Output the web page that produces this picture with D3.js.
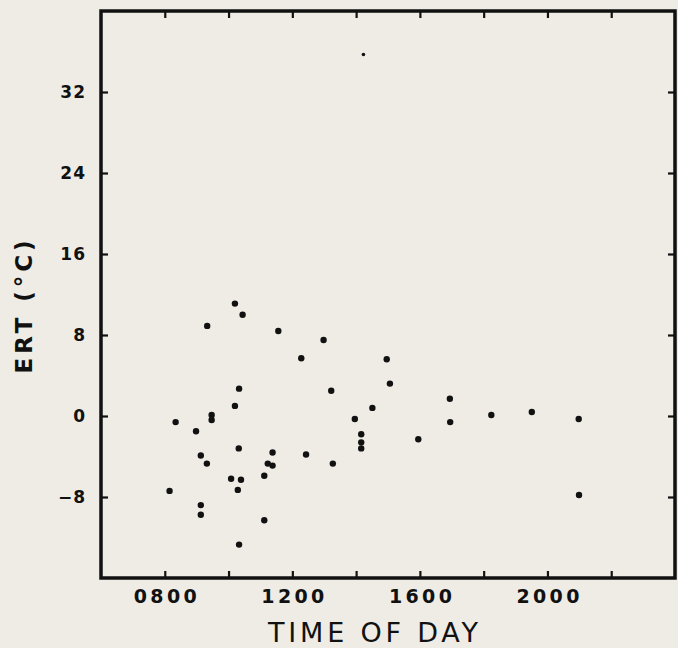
<!DOCTYPE html>
<html>
<head>
<meta charset="utf-8">
<title>ERT vs time of day</title>
<script src="https://cdn.jsdelivr.net/npm/d3@7/dist/d3.min.js"></script>
<style>
  html, body { margin: 0; padding: 0; background: #eeece5; }
  svg { display: block; }
</style>
</head>
<body>
<svg id="chart"></svg>
<script>
// time of day (decimal hours) and ERT (deg C)
var times = [
  14.23, 10.20, 10.44, 9.33, 11.56, 12.98, 12.28, 14.96, 15.06, 10.33,
  13.22, 16.94, 10.20, 14.51, 9.47, 9.47, 8.34, 19.51, 18.24, 20.98,
  13.96, 16.95, 8.98, 14.16, 15.95, 14.16, 14.16, 10.32, 9.13, 11.38,
  12.43, 9.32, 11.23, 11.38, 13.27, 11.12, 10.08, 10.39, 10.29, 8.15,
  20.99, 9.13, 9.13, 11.12, 10.33
];
var ertValues = [
  35.7, 11.1, 10.0, 8.9, 8.4, 7.5, 5.7, 5.6, 3.2, 2.7,
  2.5, 1.7, 1.0, 0.8, 0.1, -0.4, -0.6, 0.4, 0.1, -0.3,
  -0.3, -0.6, -1.5, -1.8, -2.3, -2.6, -3.2, -3.2, -3.9, -3.6,
  -3.8, -4.7, -4.7, -4.9, -4.7, -5.9, -6.2, -6.3, -7.3, -7.4,
  -7.8, -8.8, -9.75, -10.3, -12.7
];
var xTicks = [8, 10, 12, 14, 16, 18, 20, 22];
var xLabelled = [8, 12, 16, 20];
var yTicks = [-8, 0, 8, 16, 24, 32];

var width = 678, height = 648;
var plotLeft = 101, plotRight = 675, plotTop = 11, plotBottom = 578;

var svg = d3.select("#chart").attr("width", width).attr("height", height);

var x = d3.scaleLinear().domain([6, 24]).range([plotLeft, plotRight]);
var y = d3.scaleLinear().domain([-16, 40]).range([plotBottom, plotTop]);

function hhmm(h) {
  return d3.format("02d")(h) + "00";
}

// bottom axis with labels every 4 hours
var xAxis = svg.append("g")
  .attr("transform", "translate(0," + plotBottom + ")")
  .call(d3.axisBottom(x)
    .tickValues(xTicks)
    .tickSize(-7)
    .tickSizeOuter(0)
    .tickPadding(12)
    .tickFormat(function (d) { return xLabelled.indexOf(d) >= 0 ? hhmm(d) : ""; }));

// top axis, ticks only
svg.append("g")
  .attr("transform", "translate(0," + plotTop + ")")
  .call(d3.axisTop(x).tickValues(xTicks).tickSize(-7).tickSizeOuter(0).tickFormat(""));

var yAxis = svg.append("g")
  .attr("transform", "translate(" + plotLeft + ",0)")
  .call(d3.axisLeft(y).tickValues(yTicks).tickSize(-7).tickSizeOuter(0).tickPadding(15));

svg.append("g")
  .attr("transform", "translate(" + plotRight + ",0)")
  .call(d3.axisRight(y).tickValues(yTicks).tickSize(-7).tickSizeOuter(0).tickFormat(""));

svg.selectAll(".domain").remove();
svg.selectAll(".tick line").attr("stroke", "#111").attr("stroke-width", 2.2);

xAxis.selectAll("text")
  .attr("fill", "#111")
  .style("font-family", "DejaVu Sans")
  .style("font-weight", "bold")
  .style("font-size", "19px")
  .each(function () {
    if (this.textContent) d3.select(this).attr("textLength", 63).attr("lengthAdjust", "spacing");
  });

yAxis.selectAll("text")
  .attr("fill", "#111")
  .style("font-family", "DejaVu Sans")
  .style("font-weight", "bold")
  .style("font-size", "17px")
  .style("letter-spacing", "1px");

// frame
svg.append("rect")
  .attr("x", plotLeft)
  .attr("y", plotTop)
  .attr("width", plotRight - plotLeft)
  .attr("height", plotBottom - plotTop)
  .attr("fill", "none")
  .attr("stroke", "#111")
  .attr("stroke-width", 3.5);

// points
svg.append("g")
  .selectAll("circle")
  .data(times)
  .join("circle")
  .attr("cx", function (d) { return x(d); })
  .attr("cy", function (d, i) { return y(ertValues[i]); })
  .attr("r", function (d, i) { return ertValues[i] > 30 ? 1.8 : 3.2; })
  .attr("fill", "#111");

// axis titles
svg.append("text")
  .attr("x", 373)
  .attr("y", 642)
  .attr("text-anchor", "middle")
  .attr("textLength", 210)
  .attr("lengthAdjust", "spacing")
  .attr("fill", "#111")
  .style("font-family", "DejaVu Sans")
  .style("font-size", "27px")
  .text("TIME OF DAY");

svg.append("text")
  .attr("transform", "translate(32,307) rotate(-90)")
  .attr("text-anchor", "middle")
  .attr("textLength", 133)
  .attr("lengthAdjust", "spacing")
  .attr("fill", "#111")
  .style("font-family", "DejaVu Sans")
  .style("font-weight", "bold")
  .style("font-size", "23px")
  .text("ERT (°C)");
</script>
</body>
</html>
